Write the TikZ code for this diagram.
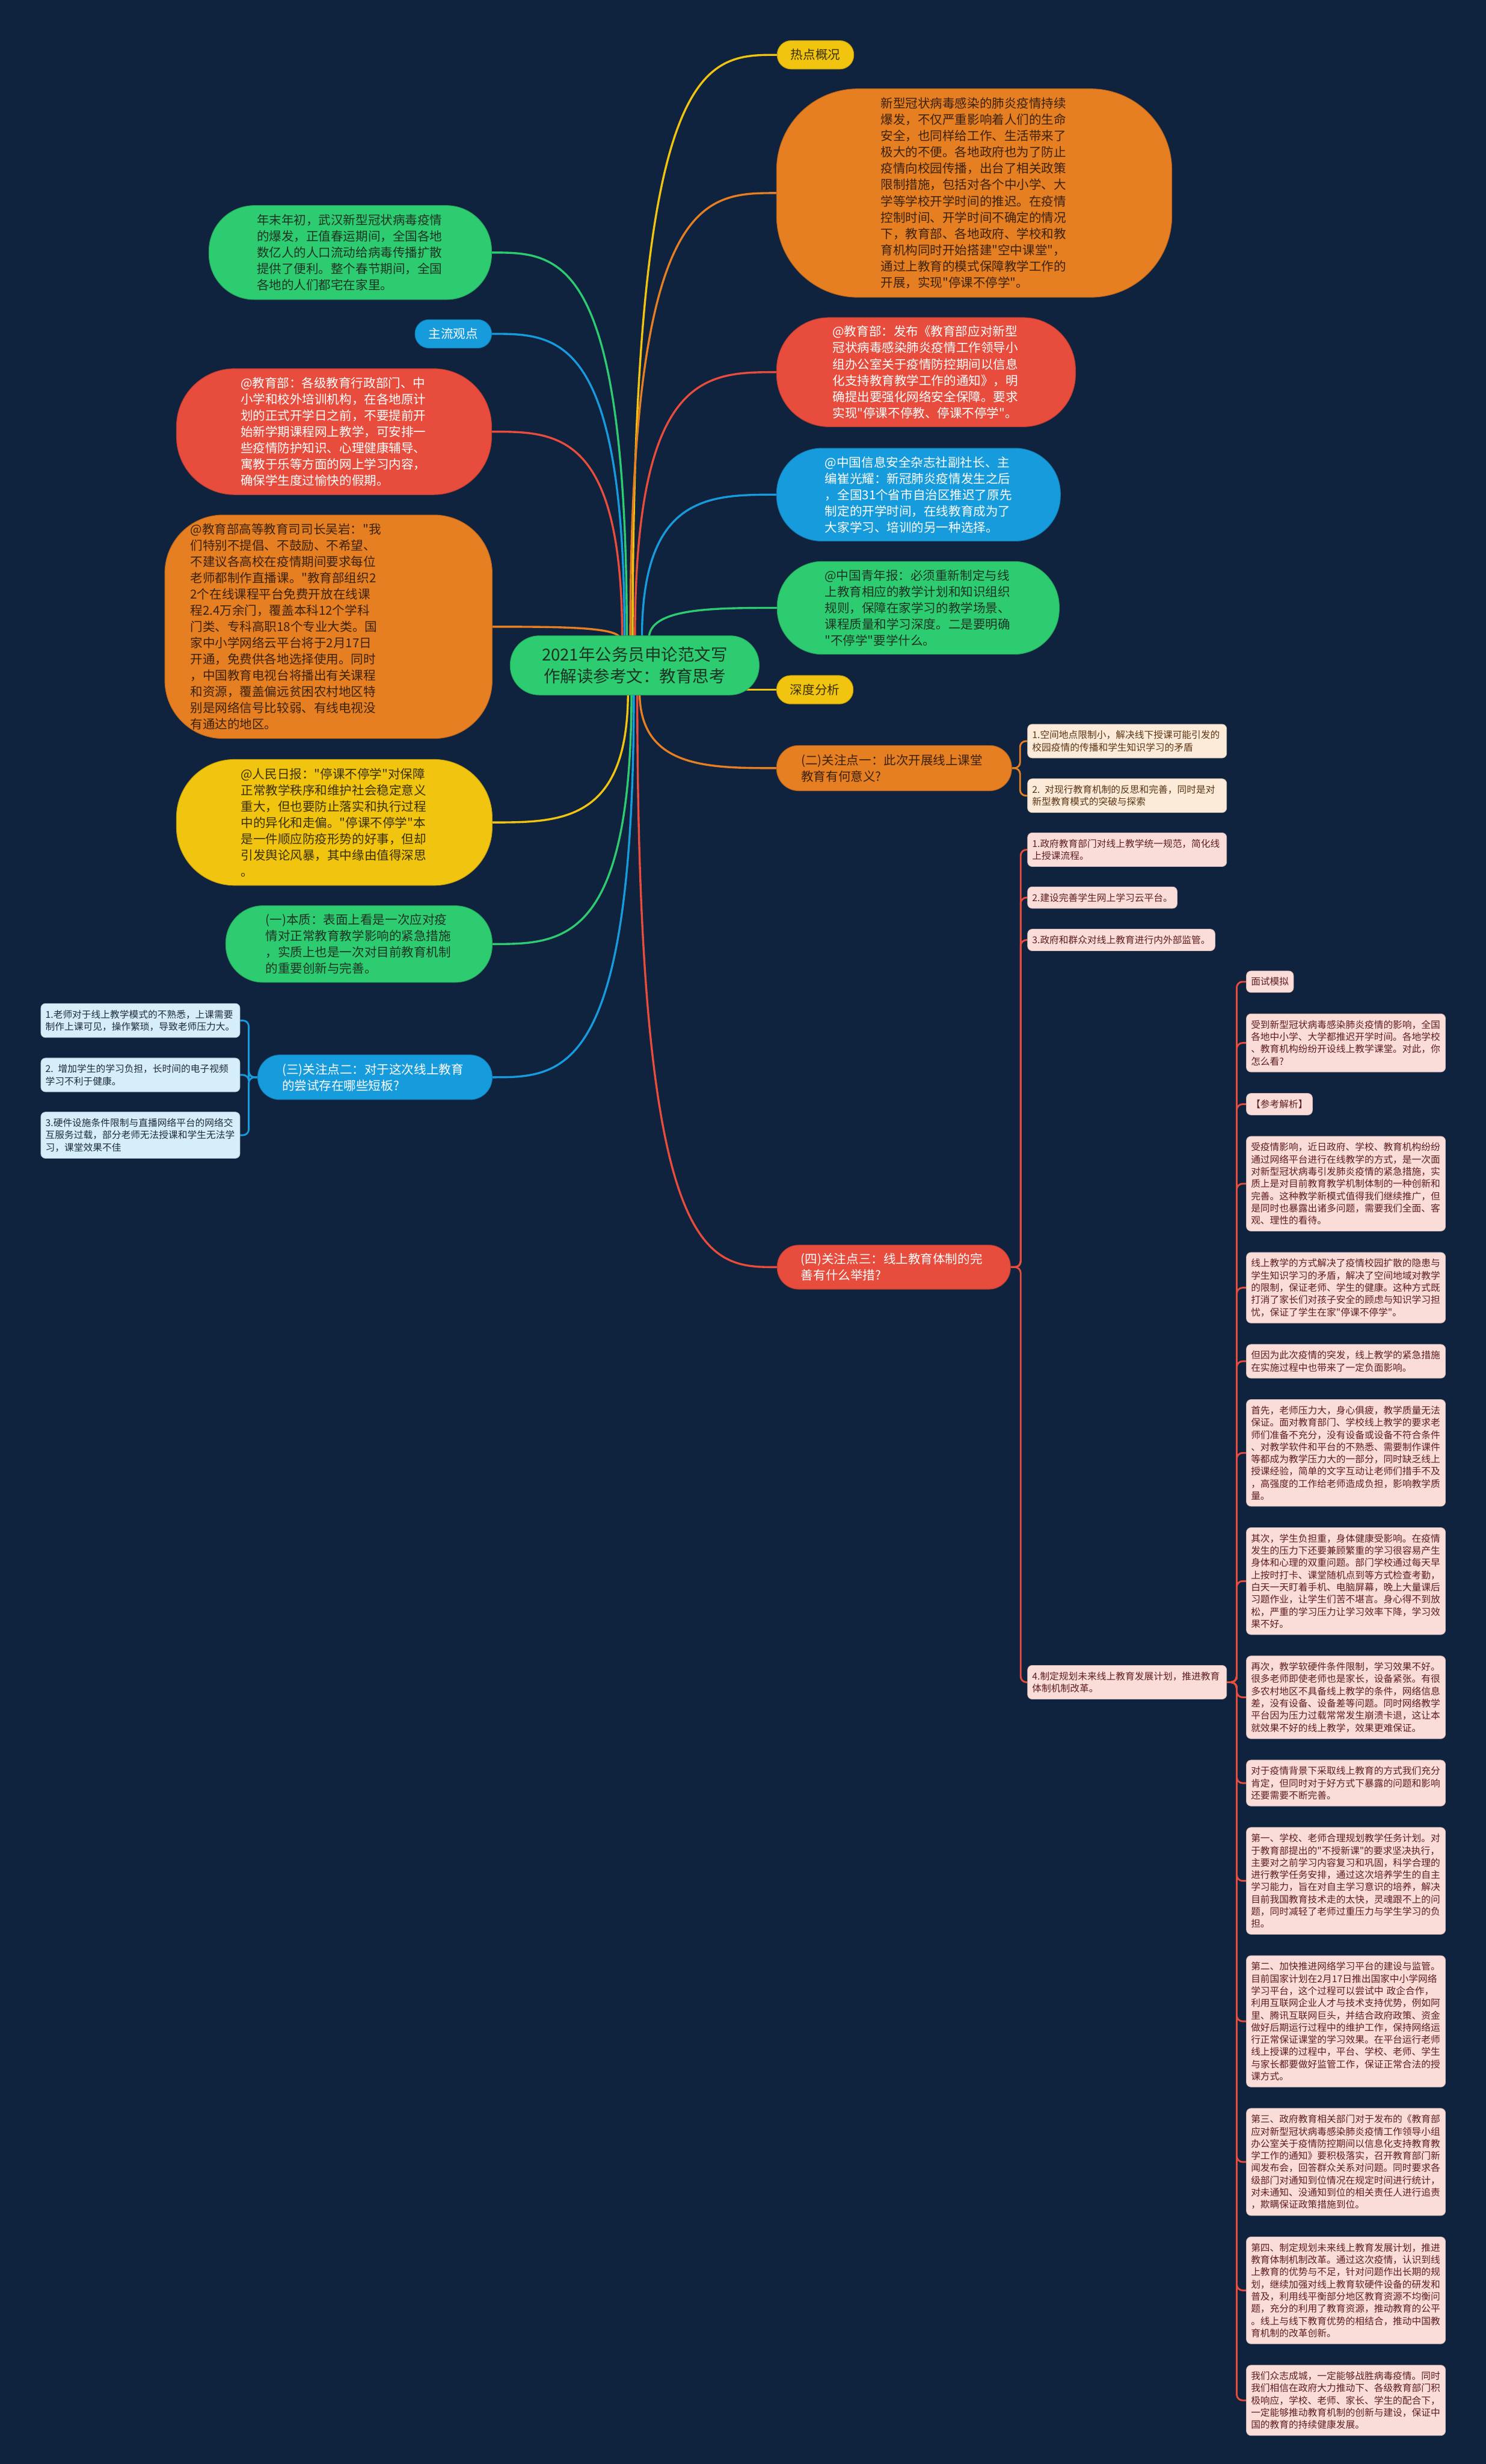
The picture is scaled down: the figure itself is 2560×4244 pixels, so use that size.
\documentclass[tikz,border=0pt]{standalone}
\usepackage{fontspec}
\setmainfont{Noto Sans CJK SC}[Ligatures=TeXOff]
\usetikzlibrary{calc,backgrounds}
\definecolor{bgc}{HTML}{0F223E}
\definecolor{cgreen}{HTML}{2ECC71}
\definecolor{cred}{HTML}{E74C3C}
\definecolor{corange}{HTML}{E67E22}
\definecolor{cblue}{HTML}{169BDD}
\definecolor{cyellow}{HTML}{F1C40F}
\definecolor{lblue}{HTML}{D6EEFA}
\definecolor{lpeach}{HTML}{FCEBD8}
\definecolor{lpink}{HTML}{FADCD9}
\definecolor{tgreen}{HTML}{1C3324}
\definecolor{torange}{HTML}{3A220C}
\definecolor{tyellow}{HTML}{3A3000}
\definecolor{tblue}{HTML}{1E2B3C}
\definecolor{tpeach}{HTML}{5A3414}
\definecolor{tpink}{HTML}{5E1E1E}
\newcommand\mmlink[3]{\draw[conn,draw=#1] (#2) .. controls (#2 |- #3) and ($(#2 |- #3)!0.5!(#3)$) .. (#3);}
\begin{document}
\begin{tikzpicture}[x=1pt,y=-1pt,
  big/.style={fill=#1, draw=#1!80!black, line width=1pt, font=\fontsize{21.3}{28}\selectfont, align=left, inner sep=0pt},
  pill/.style={fill=#1, draw=#1!80!black, line width=1pt, font=\fontsize{21.3}{26}\selectfont, minimum width=132pt, minimum height=49pt, rounded corners=24pt, inner sep=0pt},
  sm/.style={fill=#1, draw=#1!85!black, line width=0.8pt, font=\fontsize{16.3}{21}\selectfont, align=left, inner xsep=8pt, inner ysep=11pt, rounded corners=8pt},
  conn/.style={line width=3.5pt},
  br/.style={line width=3pt, rounded corners=10pt},
]
\begin{scope}[on background layer]
\fill[bgc] (0,0) rectangle (2560,4244);
\end{scope}
\useasboundingbox (0,0) rectangle (2560,4244);

% centre
\node[big=cgreen, text=tgreen, font=\fontsize{28.5}{38}\selectfont, align=center, minimum width=429pt, minimum height=102pt, rounded corners=50pt] (c) at (1093.5,1146) {2021年公务员申论范文写\\作解读参考文：教育思考};

% right upper
\node[pill=cyellow, text=tyellow] (hot) at (1405,94.5) {热点概况};
\node[big=corange, text=torange, text width=322pt, minimum width=681pt, minimum height=359pt, rounded corners=140pt] (o1) at (1678.5,332.5) {新型冠状病毒感染的肺炎疫情持续\\爆发，不仅严重影响着人们的生命\\安全，也同样给工作、生活带来了\\极大的不便。各地政府也为了防止\\疫情向校园传播，出台了相关政策\\限制措施，包括对各个中小学、大\\学等学校开学时间的推迟。在疫情\\控制时间、开学时间不确定的情况\\下，教育部、各地政府、学校和教\\育机构同时开始搭建"空中课堂"，\\通过上教育的模式保障教学工作的\\开展，实现"停课不停学"。};
\node[big=cred, text=white, text width=322pt, minimum width=515pt, minimum height=188pt, rounded corners=90pt] (r1) at (1595.5,641) {@教育部：发布《教育部应对新型\\冠状病毒感染肺炎疫情工作领导小\\组办公室关于疫情防控期间以信息\\化支持教育教学工作的通知》，明\\确提出要强化网络安全保障。要求\\实现"停课不停教、停课不停学"。};
\node[big=cblue, text=white, text width=322pt, minimum width=489pt, minimum height=160pt, rounded corners=78pt] (b1) at (1582.5,852) {@中国信息安全杂志社副社长、主\\编崔光耀：新冠肺炎疫情发生之后\\，全国31个省市自治区推迟了原先\\制定的开学时间，在线教育成为了\\大家学习、培训的另一种选择。};
\node[big=cgreen, text=tgreen, text width=322pt, minimum width=486pt, minimum height=160pt, rounded corners=78pt] (g1) at (1582,1047) {@中国青年报：必须重新制定与线\\上教育相应的教学计划和知识组织\\规则，保障在家学习的教学场景、\\课程质量和学习深度。二是要明确\\"不停学"要学什么。};
\node[pill=cyellow, text=tyellow] (deep) at (1404,1188) {深度分析};

% left
\node[big=cgreen, text=tgreen, text width=322pt, minimum width=487pt, minimum height=162pt, rounded corners=78pt] (g2) at (603.5,435) {年末年初，武汉新型冠状病毒疫情\\的爆发，正值春运期间，全国各地\\数亿人的人口流动给病毒传播扩散\\提供了便利。整个春节期间，全国\\各地的人们都宅在家里。};
\node[pill=cblue, text=white] (mainv) at (781,575) {主流观点};
\node[big=cred, text=white, text width=322pt, minimum width=543pt, minimum height=217pt, rounded corners=100pt] (r2) at (575.5,743.5) {@教育部：各级教育行政部门、中\\小学和校外培训机构，在各地原计\\划的正式开学日之前，不要提前开\\始新学期课程网上教学，可安排一\\些疫情防护知识、心理健康辅导、\\寓教于乐等方面的网上学习内容，\\确保学生度过愉快的假期。};
\node[big=corange, text=torange, text width=476pt, minimum width=564pt, minimum height=385pt, rounded corners=100pt] (o2) at (566,1079.5) {@教育部高等教育司司长吴岩："我\\们特别不提倡、不鼓励、不希望、\\不建议各高校在疫情期间要求每位\\老师都制作直播课。"教育部组织2\\2个在线课程平台免费开放在线课\\程2.4万余门，覆盖本科12个学科\\门类、专科高职18个专业大类。国\\家中小学网络云平台将于2月17日\\开通，免费供各地选择使用。同时\\，中国教育电视台将播出有关课程\\和资源，覆盖偏远贫困农村地区特\\别是网络信号比较弱、有线电视没\\有通达的地区。};
\node[big=cyellow, text=tyellow, text width=322pt, minimum width=544pt, minimum height=217pt, rounded corners=100pt] (y2) at (576,1416.5) {@人民日报："停课不停学"对保障\\正常教学秩序和维护社会稳定意义\\重大，但也要防止落实和执行过程\\中的异化和走偏。"停课不停学"本\\是一件顺应防疫形势的好事，但却\\引发舆论风暴，其中缘由值得深思\\。};
\node[big=cgreen, text=tgreen, text width=322pt, minimum width=459pt, minimum height=132pt, rounded corners=64pt] (g3) at (618.5,1626) {(一)本质：表面上看是一次应对疫\\情对正常教育教学影响的紧急措施\\，实质上也是一次对目前教育机制\\的重要创新与完善。};
\node[big=cblue, text=white, text width=320pt, minimum width=404pt, minimum height=77pt, rounded corners=38pt] (t3) at (646,1855.5) {(三)关注点二：对于这次线上教育\\的尝试存在哪些短板?};
\node[sm=lblue, text=tblue, text width=327pt, anchor=north west] (t3a) at (70,1728) {1.老师对于线上教学模式的不熟悉，上课需要\\制作上课可见，操作繁琐，导致老师压力大。};
\node[sm=lblue, text=tblue, text width=327pt, anchor=north west] (t3b) at (70,1822) {2. 增加学生的学习负担，长时间的电子视频\\学习不利于健康。};
\node[sm=lblue, text=tblue, text width=327pt, anchor=north west] (t3c) at (70,1915) {3.硬件设施条件限制与直播网络平台的网络交\\互服务过载，部分老师无法授课和学生无法学\\习，课堂效果不佳};

% right lower
\node[big=corange, text=torange, text width=320pt, minimum width=405pt, minimum height=78pt, rounded corners=38pt] (e2) at (1540.5,1323) {(二)关注点一：此次开展线上课堂\\教育有何意义?};
\node[sm=lpeach, text=tpeach, text width=327pt, anchor=north west] (e2a) at (1770,1247) {1.空间地点限制小，解决线下授课可能引发的\\校园疫情的传播和学生知识学习的矛盾};
\node[sm=lpeach, text=tpeach, text width=327pt, anchor=north west] (e2b) at (1770,1341) {2. 对现行教育机制的反思和完善，同时是对\\新型教育模式的突破与探索};
\node[big=cred, text=white, text width=320pt, minimum width=402pt, minimum height=76pt, rounded corners=37pt] (f4) at (1540,2182.5) {(四)关注点三：线上教育体制的完\\善有什么举措?};
\node[sm=lpink, text=tpink, text width=327pt, anchor=north west] (f4a) at (1770,1434) {1.政府教育部门对线上教学统一规范，简化线\\上授课流程。};
\node[sm=lpink, text=tpink, anchor=north west] (f4b) at (1770,1527) {2.建设完善学生网上学习云平台。};
\node[sm=lpink, text=tpink, anchor=north west] (f4c) at (1770,1600) {3.政府和群众对线上教育进行内外部监管。};
\node[sm=lpink, text=tpink, text width=327pt, anchor=north west] (f4d) at (1770,2868) {4.制定规划未来线上教育发展计划，推进教育\\体制机制改革。};

% far right column
\node[sm=lpink, text=tpink, anchor=north west] (ra) at (2147,1672) {面试模拟};
\node[sm=lpink, text=tpink, text width=327pt, anchor=north west] (rb) at ([yshift=-36pt]ra.south west) {受到新型冠状病毒感染肺炎疫情的影响，全国\\各地中小学、大学都推迟开学时间。各地学校\\、教育机构纷纷开设线上教学课堂。对此，你\\怎么看?};
\node[sm=lpink, text=tpink, anchor=north west] (rc) at ([yshift=-36pt]rb.south west) {【参考解析】};
\node[sm=lpink, text=tpink, text width=327pt, anchor=north west] (rd) at ([yshift=-36pt]rc.south west) {受疫情影响，近日政府、学校、教育机构纷纷\\通过网络平台进行在线教学的方式，是一次面\\对新型冠状病毒引发肺炎疫情的紧急措施，实\\质上是对目前教育教学机制体制的一种创新和\\完善。这种教学新模式值得我们继续推广，但\\是同时也暴露出诸多问题，需要我们全面、客\\观、理性的看待。};
\node[sm=lpink, text=tpink, text width=327pt, anchor=north west] (re) at ([yshift=-36pt]rd.south west) {线上教学的方式解决了疫情校园扩散的隐患与\\学生知识学习的矛盾，解决了空间地域对教学\\的限制，保证老师、学生的健康。这种方式既\\打消了家长们对孩子安全的顾虑与知识学习担\\忧，保证了学生在家"停课不停学"。};
\node[sm=lpink, text=tpink, text width=327pt, anchor=north west] (rf) at ([yshift=-36pt]re.south west) {但因为此次疫情的突发，线上教学的紧急措施\\在实施过程中也带来了一定负面影响。};
\node[sm=lpink, text=tpink, text width=327pt, anchor=north west] (rg) at ([yshift=-36pt]rf.south west) {首先，老师压力大，身心俱疲，教学质量无法\\保证。面对教育部门、学校线上教学的要求老\\师们准备不充分，没有设备或设备不符合条件\\、对教学软件和平台的不熟悉、需要制作课件\\等都成为教学压力大的一部分，同时缺乏线上\\授课经验，简单的文字互动让老师们措手不及\\，高强度的工作给老师造成负担，影响教学质\\量。};
\node[sm=lpink, text=tpink, text width=327pt, anchor=north west] (rh) at ([yshift=-36pt]rg.south west) {其次，学生负担重，身体健康受影响。在疫情\\发生的压力下还要兼顾繁重的学习很容易产生\\身体和心理的双重问题。部门学校通过每天早\\上按时打卡、课堂随机点到等方式检查考勤，\\白天一天盯着手机、电脑屏幕，晚上大量课后\\习题作业，让学生们苦不堪言。身心得不到放\\松，严重的学习压力让学习效率下降，学习效\\果不好。};
\node[sm=lpink, text=tpink, text width=327pt, anchor=north west] (ri) at ([yshift=-36pt]rh.south west) {再次，教学软硬件条件限制，学习效果不好。\\很多老师即使老师也是家长，设备紧张。有很\\多农村地区不具备线上教学的条件，网络信息\\差，没有设备、设备差等问题。同时网络教学\\平台因为压力过载常常发生崩溃卡退，这让本\\就效果不好的线上教学，效果更难保证。};
\node[sm=lpink, text=tpink, text width=327pt, anchor=north west] (rj) at ([yshift=-36pt]ri.south west) {对于疫情背景下采取线上教育的方式我们充分\\肯定，但同时对于好方式下暴露的问题和影响\\还要需要不断完善。};
\node[sm=lpink, text=tpink, text width=327pt, anchor=north west] (rk) at ([yshift=-36pt]rj.south west) {第一、学校、老师合理规划教学任务计划。对\\于教育部提出的"不授新课"的要求坚决执行，\\主要对之前学习内容复习和巩固，科学合理的\\进行教学任务安排，通过这次培养学生的自主\\学习能力，旨在对自主学习意识的培养，解决\\目前我国教育技术走的太快，灵魂跟不上的问\\题，同时减轻了老师过重压力与学生学习的负\\担。};
\node[sm=lpink, text=tpink, text width=327pt, anchor=north west] (rl) at ([yshift=-36pt]rk.south west) {第二、加快推进网络学习平台的建设与监管。\\目前国家计划在2月17日推出国家中小学网络\\学习平台，这个过程可以尝试中 政企合作，\\利用互联网企业人才与技术支持优势，例如阿\\里、腾讯互联网巨头，并结合政府政策、资金\\做好后期运行过程中的维护工作，保持网络运\\行正常保证课堂的学习效果。在平台运行老师\\线上授课的过程中，平台、学校、老师、学生\\与家长都要做好监管工作，保证正常合法的授\\课方式。};
\node[sm=lpink, text=tpink, text width=327pt, anchor=north west] (rm) at ([yshift=-36pt]rl.south west) {第三、政府教育相关部门对于发布的《教育部\\应对新型冠状病毒感染肺炎疫情工作领导小组\\办公室关于疫情防控期间以信息化支持教育教\\学工作的通知》要积极落实，召开教育部门新\\闻发布会，回答群众关系对问题。同时要求各\\级部门对通知到位情况在规定时间进行统计，\\对未通知、没通知到位的相关责任人进行追责\\，欺瞒保证政策措施到位。};
\node[sm=lpink, text=tpink, text width=327pt, anchor=north west] (rn) at ([yshift=-36pt]rm.south west) {第四、制定规划未来线上教育发展计划，推进\\教育体制机制改革。通过这次疫情，认识到线\\上教育的优势与不足，针对问题作出长期的规\\划，继续加强对线上教育软硬件设备的研发和\\普及，利用线平衡部分地区教育资源不均衡问\\题，充分的利用了教育资源，推动教育的公平\\。线上与线下教育优势的相结合，推动中国教\\育机制的改革创新。};
\node[sm=lpink, text=tpink, text width=327pt, anchor=north west] (ro) at ([yshift=-36pt]rn.south west) {我们众志成城，一定能够战胜病毒疫情。同时\\我们相信在政府大力推动下、各级教育部门积\\极响应，学校、老师、家长、学生的配合下，\\一定能够推动教育机制的创新与建设，保证中\\国的教育的持续健康发展。};

% exit points on the centre node
\coordinate (xhot) at (1090,1100);
\coordinate (xo1) at (1086,1100);
\coordinate (xr1) at (1094,1100);
\coordinate (xb1) at (1106,1100);
\coordinate (xg1) at (1118,1100);
\coordinate (xg2) at (1080,1100);
\coordinate (xmv) at (1076,1100);
\coordinate (xr2) at (1072,1100);
\coordinate (xo2) at (1068,1100);
\coordinate (xy2) at (1082,1192);
\coordinate (xg3) at (1088,1192);
\coordinate (xt3) at (1092,1192);
\coordinate (xe2) at (1102,1192);
\coordinate (xf4) at (1098,1192);

\begin{scope}[on background layer]
\mmlink{cyellow}{xhot}{hot.west}
\mmlink{corange}{xo1}{o1.west}
\mmlink{cred}{xr1}{r1.west}
\mmlink{cblue}{xb1}{b1.west}
\mmlink{cgreen}{xg1}{g1.west}
\mmlink{cgreen}{xg2}{g2.east}
\mmlink{cblue}{xmv}{mainv.east}
\mmlink{cred}{xr2}{r2.east}
\mmlink{corange}{xo2}{o2.east}
\mmlink{cyellow}{xy2}{y2.east}
\mmlink{cgreen}{xg3}{g3.east}
\mmlink{cblue}{xt3}{t3.east}
\mmlink{corange}{xe2}{e2.west}
\mmlink{cred}{xf4}{f4.west}
\draw[conn,draw=cyellow] (deep.west) -- ++(-55pt,0);
% brackets
\foreach \k in {t3a,t3b,t3c}{\draw[br,draw=cblue] (t3.west) -- ++(-15pt,0) |- (\k.east);}
\foreach \k in {e2a,e2b}{\draw[br,draw=corange] (e2.east) -- ++(14pt,0) |- (\k.west);}
\foreach \k in {f4a,f4b,f4c,f4d}{\draw[br,draw=cred] (f4.east) -- ++(17pt,0) |- (\k.west);}
\foreach \k in {ra,rb,rc,rd,re,rf,rg,rh,ri,rj,rk,rl,rm,rn,ro}{\draw[br,draw=cred] (f4d.east) -- ++(17pt,0) |- (\k.west);}
\end{scope}
\end{tikzpicture}
\end{document}
